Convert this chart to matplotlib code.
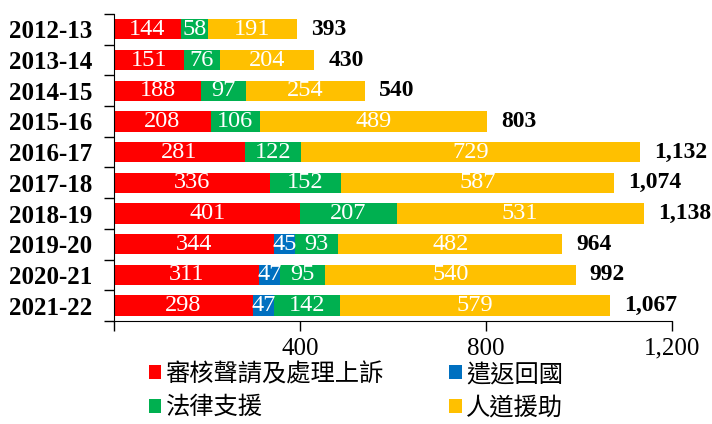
import matplotlib
matplotlib.use("Agg")
import matplotlib.pyplot as plt
import numpy as np

years = ["2012-13", "2013-14", "2014-15", "2015-16", "2016-17",
         "2017-18", "2018-19", "2019-20", "2020-21", "2021-22"]
screening = [144, 151, 188, 208, 281, 336, 401, 344, 311, 298]
removal = [0, 0, 0, 0, 0, 0, 0, 45, 47, 47]
legal = [58, 76, 97, 106, 122, 152, 207, 93, 95, 142]
humanitarian = [191, 204, 254, 489, 729, 587, 531, 482, 540, 579]
totals = ["393", "430", "540", "803", "1,132", "1,074", "1,138", "964", "992", "1,067"]

series_names = ["審核聲請及處理上訴", "遣返回國", "法律支援", "人道援助"]
colors = ["#FF0000", "#0070C0", "#00B050", "#FFC000"]

serif = "Liberation Serif"
cjk = ["Noto Sans CJK TC", "DejaVu Sans"]

fig = plt.figure(figsize=(7.12, 4.24), dpi=100)
ax = fig.add_axes([0.160, 0.243, 0.784, 0.724])

y = np.arange(len(years))
left = np.zeros(len(years))
bars = []
for vals, col in zip([screening, removal, legal, humanitarian], colors):
    vals = np.array(vals)
    b = ax.barh(y, vals, left=left, height=0.66, color=col, edgecolor="none")
    bars.append(b)
    for yi, l, v in zip(y, left, vals):
        if v > 0:
            ax.text(l + v / 2, yi, str(v), ha="center", va="center",
                    color="white", fontsize=17.5, family=serif)
    left = left + vals

for yi, tot, lab in zip(y, left, totals):
    ax.text(tot + 30, yi, lab, ha="left", va="center", color="black",
            fontsize=17, family=serif, fontweight="bold")

ax.set_xlim(0, 1200)
ax.set_ylim(len(years) - 0.5, -0.5)
ax.set_xticks([0, 400, 800, 1200])
ax.set_xticklabels(["", "400", "800", "1,200"], family=serif, fontsize=18)
ax.tick_params(axis="x", direction="out", length=7, pad=5, width=1)

ax.set_yticks(y)
ax.set_yticklabels(years, family=serif, fontsize=18, fontweight="bold")
ax.set_yticks(np.arange(-0.5, len(years)), minor=True)
ax.tick_params(axis="y", which="major", length=0, pad=15.5)
ax.tick_params(axis="y", which="minor", direction="out", length=7, width=1)

for s in ["top", "right"]:
    ax.spines[s].set_visible(False)

# legend fills column-wise, so reorder to get the 2x2 layout of the original
handles = [bars[0], bars[2], bars[1], bars[3]]
labels = [series_names[0], series_names[2], series_names[1], series_names[3]]
fig.legend(handles, labels, ncol=2, loc="upper left",
           bbox_to_anchor=(149 / 712, 1 - 361 / 424), frameon=False,
           prop={"family": cjk, "size": 17.5},
           borderpad=0, borderaxespad=0,
           handlelength=0.5, handleheight=0.5, handletextpad=0.18,
           columnspacing=2.7, labelspacing=0.3)

fig.savefig("out.png", dpi=100)
